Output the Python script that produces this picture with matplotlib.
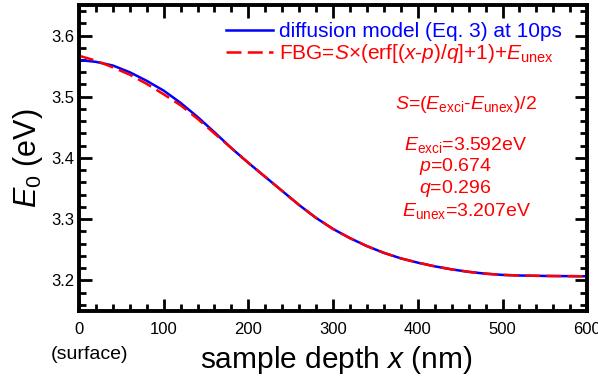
import numpy as np
import matplotlib
matplotlib.use('Agg')
import matplotlib.pyplot as plt
from matplotlib.ticker import MultipleLocator

plt.rcParams['font.family'] = 'Liberation Sans'
plt.rcParams['mathtext.fontset'] = 'custom'
plt.rcParams['mathtext.rm'] = 'Liberation Sans'
plt.rcParams['mathtext.it'] = 'Liberation Sans:italic'

# diffusion model (Eq. 3) at 10ps
depth_diff = [0, 20, 40, 60, 80, 100, 120, 140, 160, 180, 200, 220, 240, 260,
              280, 300, 320, 340, 360, 380, 400, 420, 440, 460, 480, 500, 520, 550, 600]
e0_diff = [3.560, 3.557, 3.551, 3.540, 3.526, 3.510, 3.490, 3.467, 3.442, 3.416,
           3.392, 3.369, 3.346, 3.323, 3.302, 3.284, 3.269, 3.256, 3.245, 3.236,
           3.229, 3.223, 3.218, 3.214, 3.211, 3.209, 3.208, 3.2073, 3.2067]

# FBG fit
depth_fbg = depth_diff
e0_fbg = [3.567, 3.559, 3.548, 3.536, 3.521, 3.504, 3.486, 3.464, 3.440, 3.416,
          3.392, 3.369, 3.346, 3.323, 3.302, 3.284, 3.269, 3.256, 3.245, 3.236,
          3.229, 3.223, 3.218, 3.214, 3.211, 3.209, 3.208, 3.2073, 3.2067]

fig = plt.figure(figsize=(5.98, 3.77), dpi=100)
ax = fig.add_axes([0.132, 0.175, 0.850, 0.812])

ax.plot(depth_diff, e0_diff, color='#0000ff', lw=1.8,
        label='diffusion model (Eq. 3) at 10ps')
ax.plot(depth_fbg, e0_fbg, color='#ff0000', lw=1.8, dashes=(6, 2.5),
        label=r'FBG=$S$×(erf[($x$-$p$)/$q$]+1)+$E_{\mathrm{unex}}$')

ax.set_xlim(0, 600)
ax.set_ylim(3.15, 3.65)
ax.xaxis.set_major_locator(MultipleLocator(100))
ax.xaxis.set_minor_locator(MultipleLocator(20))
ax.yaxis.set_major_locator(MultipleLocator(0.1))
ax.yaxis.set_minor_locator(MultipleLocator(0.02))
ax.tick_params(which='both', direction='in', top=True, right=True, width=2, labelsize=12)
ax.tick_params(which='major', length=9)
ax.tick_params(which='minor', length=5)
ax.tick_params(axis='x', pad=8)
for s in ax.spines.values():
    s.set_linewidth(2.8)

ax.set_xlabel(r'sample depth $x$ (nm)', fontsize=21.5)
ax.xaxis.set_label_coords(0.507, -0.108)
ax.set_ylabel(r'$E_0$ (eV)', fontsize=22, labelpad=4)
ax.text(0.02, -0.115, '(surface)', transform=ax.transAxes, fontsize=14, ha='center', va='top')

leg = ax.legend(loc='upper right', bbox_to_anchor=(0.975, 0.985), frameon=False,
                fontsize=15, handlelength=2.25, handletextpad=0.3, labelspacing=0.05,
                borderpad=0.1, labelcolor='linecolor')

red = '#ff0000'
ax.text(457, 3.480, r'$S$=($E_{\mathrm{exci}}$-$E_{\mathrm{unex}}$)/2', color=red, fontsize=14, ha='center', va='baseline')
ax.text(456, 3.4136, r'$E_{\mathrm{exci}}$=3.592eV', color=red, fontsize=14, ha='center', va='baseline')
ax.text(444, 3.378, r'$p$=0.674', color=red, fontsize=14, ha='center', va='baseline')
ax.text(444, 3.342, r'$q$=0.296', color=red, fontsize=14, ha='center', va='baseline')
ax.text(457, 3.305, r'$E_{\mathrm{unex}}$=3.207eV', color=red, fontsize=14, ha='center', va='baseline')

fig.savefig('out.png', dpi=100)
